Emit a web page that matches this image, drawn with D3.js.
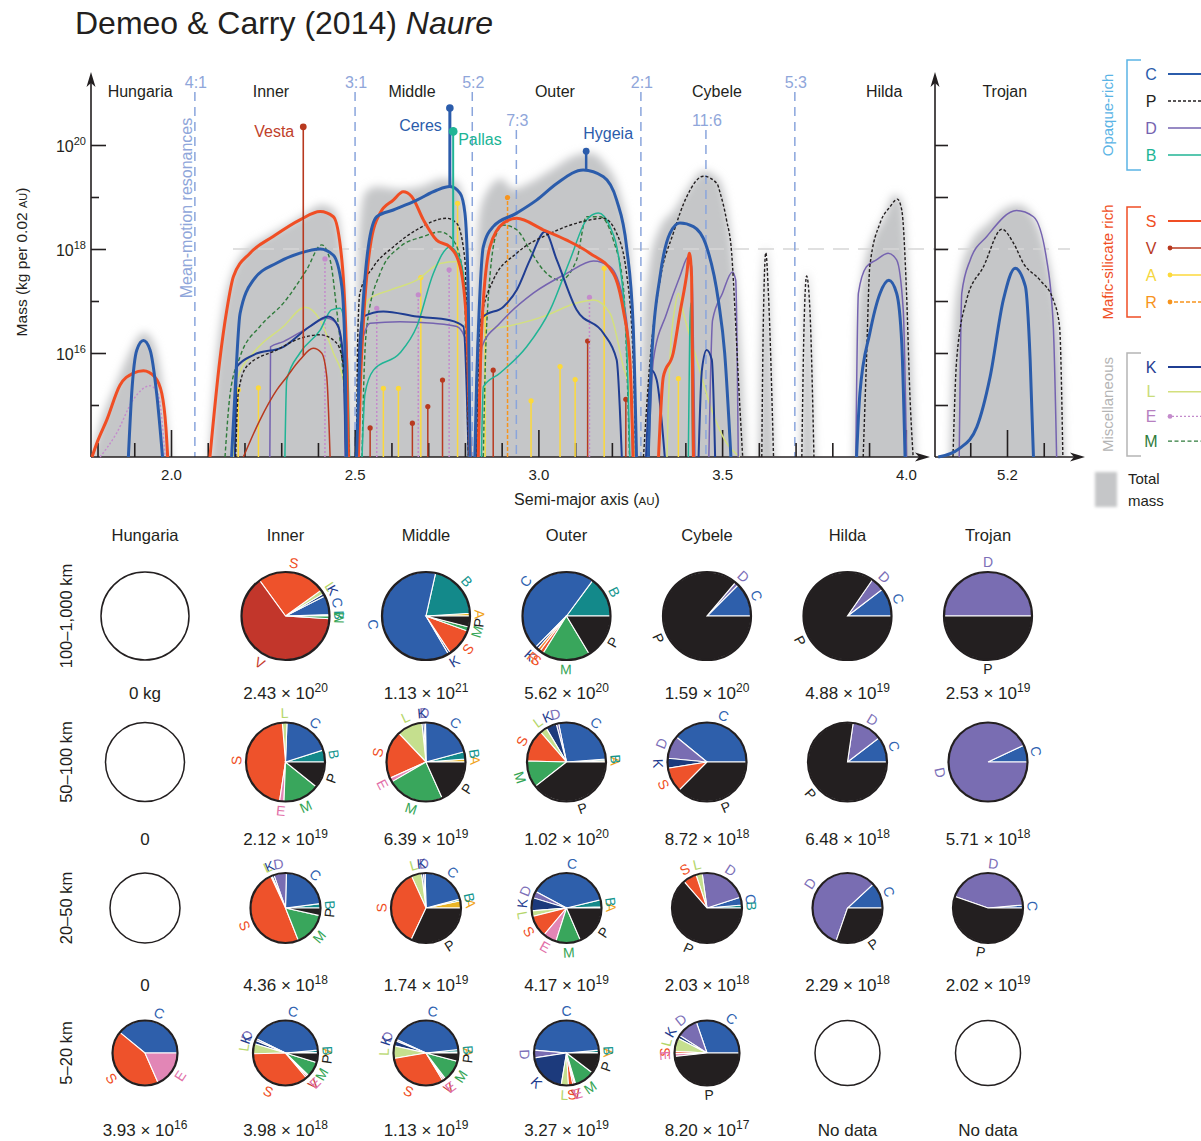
<!DOCTYPE html>
<html>
<head>
<meta charset="utf-8">
<script src="https://cdnjs.cloudflare.com/ajax/libs/d3/7.8.5/d3.min.js"></script>
<style>
  body { margin: 0; background: #fff; }
  svg { font-family: "Liberation Sans", Arial, sans-serif; }
</style>
</head>
<body>
<svg id="chart" width="1201" height="1141"></svg>
<script>
// curves: [semi-major axis (AU), log10 mass (kg per 0.02 AU)]
var hungariaTotal = [[1.783,14],[1.81,14.7],[1.85,15.4],[1.88,15.9],[1.91,16.3],[1.925,16.4],[1.945,16.3],[1.965,15.9],[1.98,15.2],[1.99,14.5],[1.998,14]];
var hungariaS = [[1.785,14],[1.80,14.3],[1.825,14.71],[1.861,15.38],[1.897,15.61],[1.925,15.66],[1.956,15.54],[1.975,15.22],[1.986,14.58],[1.991,14]];
var hungariaC = [[1.884,14],[1.893,15.22],[1.907,16.06],[1.925,16.24],[1.943,16.06],[1.961,15.22],[1.977,14]];
var hungariaE = [[1.807,14],[1.852,14.46],[1.897,15.1],[1.943,15.37],[1.965,15.2],[1.984,14]];

var innerTotal = [[2.105,14],[2.12,15.6],[2.14,16.8],[2.165,17.5],[2.2,17.95],[2.25,18.2],[2.3,18.4],[2.36,18.65],[2.41,18.85],[2.445,18.75],[2.465,18.1],[2.48,16.5],[2.49,14]];
var innerS = [[2.106,14],[2.133,15.87],[2.152,16.83],[2.17,17.47],[2.215,17.92],[2.278,18.24],[2.351,18.56],[2.406,18.72],[2.442,18.62],[2.465,17.79],[2.478,15.87],[2.483,14]];
var innerC = [[2.165,14],[2.174,15.22],[2.188,16.76],[2.224,17.4],[2.288,17.73],[2.351,17.92],[2.406,18.0],[2.442,17.88],[2.465,17.28],[2.474,15.87],[2.478,14]];
var innerM = [[2.147,14],[2.161,15.22],[2.188,15.93],[2.242,16.51],[2.306,16.96],[2.369,17.6],[2.41,18.08],[2.433,17.79],[2.451,16.83],[2.469,15.54],[2.483,14]];
var innerL = [[2.17,14],[2.179,15.48],[2.224,16.0],[2.306,16.51],[2.365,16.88],[2.406,16.63],[2.442,16.0],[2.469,15.48],[2.478,14]];
var innerK = [[2.174,14],[2.18,15.74],[2.224,15.96],[2.306,16.12],[2.378,16.51],[2.428,16.7],[2.455,16.51],[2.469,15.87],[2.476,14]];
var innerP = [[2.176,14],[2.183,15.22],[2.206,15.74],[2.288,16.06],[2.351,16.28],[2.406,16.35],[2.451,16.19],[2.474,15.54],[2.485,14]];
var innerD = [[2.269,14],[2.271,16.12],[2.306,16.22],[2.369,16.47],[2.424,16.67],[2.451,16.57],[2.469,15.87],[2.474,14]];
var innerB = [[2.31,14],[2.315,15.48],[2.351,16.0],[2.406,16.44],[2.437,16.83],[2.46,16.86],[2.474,16.51],[2.483,15.22],[2.486,14]];
var innerV = [[2.197,14],[2.242,14.71],[2.288,15.29],[2.315,15.54],[2.351,15.87],[2.387,16.09],[2.41,16.0],[2.424,15.54],[2.433,14]];

var middleTotal = [[2.502,14],[2.507,17],[2.515,18.6],[2.53,19.1],[2.56,19.2],[2.62,19.15],[2.68,19.2],[2.74,19.35],[2.775,19.3],[2.795,19.0],[2.808,17.8],[2.816,14]];
var middleC = [[2.505,14],[2.512,15.5],[2.519,16.51],[2.537,18.04],[2.56,18.62],[2.605,18.75],[2.669,18.94],[2.723,19.13],[2.759,19.2],[2.787,19.07],[2.8,18.69],[2.809,17.15],[2.814,14]];
var middleS = [[2.51,14],[2.516,15.5],[2.523,16.51],[2.542,18.04],[2.569,18.69],[2.605,18.94],[2.632,19.1],[2.655,19.01],[2.687,18.56],[2.723,18.17],[2.759,18.04],[2.787,17.66],[2.805,16.51],[2.814,14]];
var middleP = [[2.505,14],[2.508,16.2],[2.514,17.15],[2.551,17.66],[2.605,18.04],[2.669,18.37],[2.75,18.59],[2.778,18.49],[2.8,17.79],[2.81,14]];
var middleM = [[2.52,14],[2.525,15.5],[2.533,16.51],[2.569,17.53],[2.623,18.04],[2.687,18.24],[2.732,18.33],[2.768,18.17],[2.796,17.47],[2.809,14]];
var middleL = [[2.51,14],[2.52,16.3],[2.537,17.02],[2.596,17.21],[2.669,17.4],[2.732,17.72],[2.778,17.76],[2.8,17.15],[2.812,14]];
var middleK = [[2.507,14],[2.513,16.2],[2.523,16.7],[2.578,16.8],[2.669,16.7],[2.759,16.63],[2.796,16.51],[2.81,14]];
var middleD = [[2.51,14],[2.515,16.0],[2.53,16.45],[2.542,16.57],[2.623,16.6],[2.714,16.57],[2.778,16.51],[2.805,16.19],[2.812,14]];
var middleB = [[2.52,14],[2.528,15.22],[2.551,15.67],[2.623,16.0],[2.669,16.51],[2.714,17.53],[2.759,18.04],[2.787,17.79],[2.805,16.83],[2.812,14]];

var outerTotal = [[2.823,14],[2.829,17],[2.838,18.6],[2.86,19.1],[2.9,19.35],[2.93,19.15],[2.97,19.25],[3.03,19.5],[3.1,19.8],[3.14,19.85],[3.18,19.65],[3.22,19.1],[3.245,18.2],[3.26,16.5],[3.27,14]];
var outerC = [[2.827,14],[2.832,15.5],[2.837,16.51],[2.85,18.04],[2.877,18.43],[2.941,18.69],[2.995,18.94],[3.05,19.26],[3.122,19.52],[3.177,19.39],[3.213,18.94],[3.24,18.04],[3.258,16.51],[3.267,14]];
var outerS = [[2.836,14],[2.846,16.51],[2.868,18.04],[2.905,18.5],[2.941,18.59],[3.013,18.37],[3.077,18.17],[3.14,17.92],[3.204,17.53],[3.231,16.83],[3.249,15.87],[3.258,14]];
var outerP = [[2.832,14],[2.841,16.51],[2.877,17.4],[2.941,17.92],[3.032,18.3],[3.122,18.53],[3.177,18.59],[3.213,18.3],[3.24,17.53],[3.258,15.87],[3.265,14]];
var outerM = [[2.85,14],[2.859,16.51],[2.886,18.3],[2.905,18.46],[2.941,18.37],[2.977,17.98],[3.013,17.6],[3.059,17.4],[3.104,17.79],[3.131,18.62],[3.168,18.62],[3.204,18.17],[3.231,17.28],[3.248,14]];
var outerK = [[2.83,14],[2.837,16.51],[2.85,16.7],[2.905,16.89],[2.941,17.21],[2.977,17.79],[3.018,18.33],[3.05,17.79],[3.104,16.83],[3.177,16.38],[3.213,15.87],[3.227,14]];
var outerD = [[2.838,14],[2.846,16.12],[2.895,16.57],[2.986,17.15],[3.077,17.53],[3.15,17.77],[3.195,17.66],[3.231,17.02],[3.249,15.87],[3.256,14]];
var outerB = [[2.845,14],[2.85,15.35],[2.895,15.61],[2.968,16.12],[3.032,16.83],[3.086,17.79],[3.131,18.56],[3.163,18.69],[3.195,18.43],[3.222,17.66],[3.24,16.19],[3.249,14]];
var outerL = [[2.852,14],[2.859,16.44],[2.913,16.51],[3.013,16.7],[3.104,16.96],[3.15,17.02],[3.195,16.76],[3.231,15.74],[3.249,15.22],[3.262,14]];

var cybeleTotal = [[3.276,14],[3.285,16.5],[3.3,17.6],[3.33,18.4],[3.37,18.75],[3.41,19.2],[3.45,19.5],[3.49,19.35],[3.515,18.7],[3.535,17.5],[3.55,16.2],[3.565,14]];
var cybeleTotal2 = [[3.6,14],[3.608,16.8],[3.619,18.05],[3.63,16.8],[3.642,14]];
var cybeleTotal3 = [[3.714,14],[3.722,16.6],[3.73,17.55],[3.74,16.8],[3.752,14]];
var cybeleP = [[3.286,14],[3.304,15.87],[3.331,17.4],[3.367,18.3],[3.404,19.01],[3.449,19.4],[3.486,19.26],[3.495,19.07],[3.512,18.56],[3.526,17.92],[3.535,16.83],[3.544,15.54],[3.556,14]];
var cybeleP2 = [[3.608,14],[3.612,16.51],[3.619,17.93],[3.626,17.15],[3.64,14]];
var cybeleP3 = [[3.717,14],[3.723,16.51],[3.73,17.48],[3.739,16.83],[3.75,14]];
var cybeleC = [[3.299,14],[3.308,15.87],[3.331,17.47],[3.358,18.3],[3.385,18.5],[3.422,18.43],[3.455,18.1],[3.49,17.0],[3.507,16.0],[3.524,14]];
var cybeleS = [[3.327,14],[3.34,15.54],[3.367,16.0],[3.385,16.76],[3.404,17.53],[3.411,17.92],[3.417,17.47],[3.422,14]];
var cybeleD = [[3.3,14],[3.313,15.87],[3.349,16.76],[3.385,17.47],[3.408,17.85],[3.417,17.66],[3.426,14]];
var cybeleD2 = [[3.464,14],[3.474,16.63],[3.501,17.15],[3.528,17.56],[3.537,17.4],[3.544,14]];
var cybeleK = [[3.293,14],[3.308,15.67],[3.322,15.48],[3.344,14]];
var cybeleK2 = [[3.436,14],[3.445,15.67],[3.458,16.06],[3.472,15.87],[3.481,14]];
var cybeleL = [[3.35,14],[3.358,15.87],[3.372,16.89],[3.381,17.15],[3.395,16.76],[3.431,15.87],[3.472,14.9],[3.512,14.27],[3.548,14]];
var cybeleB = [[3.408,14],[3.412,16.5],[3.415,16.96],[3.418,15.0],[3.42,14]];

var hildaTotal = [[3.86,14],[3.868,16.6],[3.885,17.6],[3.91,18.2],[3.94,18.6],[3.97,19.05],[3.99,18.9],[4.004,17.6],[4.014,16.2],[4.026,14]];
var hildaP = [[3.884,14],[3.893,15.87],[3.902,17.66],[3.93,18.5],[3.957,18.81],[3.977,18.96],[3.989,18.75],[4.002,17.15],[4.011,15.22],[4.02,14]];
var hildaD = [[3.864,14],[3.871,17.15],[3.893,17.66],[3.92,17.79],[3.952,17.92],[3.975,17.79],[3.993,16.83],[4.002,14]];
var hildaC = [[3.866,14],[3.875,15.22],[3.902,16.38],[3.93,17.15],[3.954,17.4],[3.975,17.15],[3.989,16.19],[3.998,14]];

var trojanTotal = [[5.045,14],[5.055,16.5],[5.075,17.6],[5.1,18.1],[5.15,18.5],[5.2,18.8],[5.23,18.85],[5.27,18.65],[5.3,18.1],[5.325,17.3],[5.345,16.2],[5.356,14]];
var trojanD = [[5.07,14],[5.077,17.15],[5.1,17.79],[5.145,18.24],[5.226,18.74],[5.272,18.62],[5.308,17.79],[5.326,16.51],[5.335,14]];
var trojanP = [[5.053,14],[5.063,15.87],[5.09,17.02],[5.136,17.66],[5.186,18.38],[5.218,18.11],[5.245,17.72],[5.29,17.4],[5.326,17.02],[5.343,16.51],[5.352,14]];
var trojanC = [[5.013,14],[5.072,14.17],[5.118,14.58],[5.154,15.54],[5.19,17.02],[5.222,17.63],[5.25,17.28],[5.263,15.87],[5.272,14]];

// single objects drawn as stems [a, log10 mass]
var vStems = [[2.542,14.56],[2.657,14.65],[2.699,14.97],[2.739,15.48],[2.877,15.67],[3.134,16.23],[3.238,15.11]];
var aStems = [[2.183,15.29],[2.238,15.33],[2.578,15.32],[2.619,15.32],[2.68,17.45],[2.78,18.88],[2.855,16.73],[2.98,15.08],[3.059,15.74],[3.1,15.49],[3.179,17.63],[3.381,15.51]];
var eStems = [[2.419,17.81],[2.56,16.86],[2.673,17.12],[2.757,17.6],[3.139,17.07]];
var rStems = [[2.916,18.99]];
var bodies = [
  {name: 'Vesta', cls: 'V', a: 2.36, from: 15.95, to: 20.35},
  {name: 'Ceres', cls: 'C', a: 2.759, from: 19.2, to: 20.71},
  {name: 'Pallas', cls: 'B', a: 2.768, from: 18.04, to: 20.26},
  {name: 'Hygeia', cls: 'C', a: 3.13, from: 19.5, to: 19.88}
];

var resonances = [['4:1', 2.065], ['3:1', 2.501], ['5:2', 2.82], ['2:1', 3.279], ['5:3', 3.698]];
var resonancesLow = [['7:3', 2.94], ['11:6', 3.456]];
var regionNames = ['Hungaria', 'Inner', 'Middle', 'Outer', 'Cybele', 'Hilda', 'Trojan'];
var regionLabelAU = [1.916, 2.272, 2.656, 3.045, 3.486, 3.941, 5.194];

// pies: share (%) of each class, per size range and region
var pieOrder = ['A','B','C','D','K','L','R','S','V','E','M','P'];
var sizeRanges = ['100\u20131,000 km', '50\u2013100 km', '20\u201350 km', '5\u201320 km'];
var pies100 = [
  null,
  {B:0.5, C:7, K:1, L:1.5, S:25, V:64, M:1},
  {A:1, B:20.5, C:62, K:0.8, S:10.2, M:1.5, P:4},
  {B:14.9, C:47.7, K:1, R:1.1, S:1.4, M:17.5, P:16.4},
  {C:12.5, D:1.3, P:86.2},
  {C:10.4, D:5, P:84.6},
  {D:50, P:50}
];
var pies50 = [
  null,
  {B:4.9, C:19.5, L:1.9, S:46.3, E:1.8, M:14.8, P:10.8},
  {A:1.2, B:3, C:21, D:0.7, K:0.8, L:10.4, S:19.6, E:1.7, M:23.3, P:18.3},
  {A:0.6, B:0.6, C:27, D:1, K:4.4, L:2.8, S:13.2, M:11, P:39.4},
  {C:39.1, D:9.4, K:4, S:10.1, P:37.4},
  {C:10.4, D:12.3, P:77.3},
  {C:7, D:93}
];
var pies20 = [
  null,
  {B:2, C:22.6, D:5.8, K:0.9, L:0.6, S:49.1, M:15.5, P:3.5},
  {A:3.3, B:0.8, C:21.3, D:0.8, K:0.9, L:4.7, S:36.2, P:32},
  {A:0.5, B:3.3, C:38.4, D:3.1, K:6, L:2.6, S:10, E:6.2, M:11.4, P:18.5},
  {B:1.4, C:3.6, D:22.2, L:2.9, S:6.3, P:63.6},
  {C:11.9, D:57.8, P:30.3},
  {C:1.4, D:43.3, P:55.3}
];
var pies5 = [
  {C:39.1, S:42.5, E:18.4},
  {A:0.3, B:1.1, C:41.4, D:0.9, K:1.7, L:5, S:35.8, V:0.8, E:0.8, M:7.5, P:4.7},
  {A:0.6, B:1.1, C:41.5, D:0.8, K:2.5, L:6.2, S:31, V:0.8, E:0.8, M:10.6, P:4.1},
  {A:0.3, B:1.1, C:47.2, D:3.8, K:20, L:3.6, S:2.2, V:0.8, E:0.6, M:10, P:10.4},
  {C:30.3, D:10.7, K:1.5, L:6.7, S:1.1, E:1.4, P:48.3},
  null,
  null
];
var mass100 = ['0 kg', '2.43e20', '1.13e21', '5.62e20', '1.59e20', '4.88e19', '2.53e19'];
var mass50 = ['0', '2.12e19', '6.39e19', '1.02e20', '8.72e18', '6.48e18', '5.71e18'];
var mass20 = ['0', '4.36e18', '1.74e19', '4.17e19', '2.03e18', '2.29e18', '2.02e19'];
var mass5 = ['3.93e16', '3.98e18', '1.13e19', '3.27e19', '8.20e17', 'No data', 'No data'];

// ---- styles
var ink = '#231f20';
var lineColor = {C:'#2b5cab', P:ink, D:'#7563b0', B:'#20b495', S:'#f04e24', V:'#b8391f', A:'#fcd93b', R:'#f7941d', K:'#1f3d92', L:'#d3e07d', E:'#c48bcc', M:'#2f7b3b'};
var letterColor = {C:'#2b5cab', P:ink, D:'#7563b0', B:'#20b495', S:'#f04e24', V:'#b8391f', A:'#f5d63d', R:'#f7941d', K:'#1f3d92', L:'#c9dc7a', E:'#b67fc0', M:'#2f7b3b'};
var lineWidth = {C:3, P:1.4, D:1.5, B:1.5, S:3, K:2, L:1.5, M:1.4, E:1.4, V:1.5, A:1.5, R:1.5};
var lineDash = {P:'3,2', M:'4,2.5', E:'2,2', R:'4,2'};
var zOrder = {L:0, E:1, M:2, D:3, B:4, K:5, P:6, V:7, S:8, C:9};
var pieFill = {A:'#e9b527', B:'#13898a', C:'#2e5fab', D:'#796db2', K:'#1c3a7c', L:'#c5df8e', R:'#f4812d', S:'#ee522b', V:'#c2362b', E:'#e286b6', M:'#39a65c', P:ink};
var pieText = {A:'#f0a31b', B:'#15968f', C:'#2e62b0', D:'#7c6fb8', K:'#1f3d8f', L:'#b5d66a', R:'#f26b3a', S:'#f04e24', V:'#c53a2c', E:'#e26fa8', M:'#35a555', P:ink};

var svg = d3.select('#chart');

var x = d3.scaleLinear().domain([2, 4]).range([171, 905.8]);
var xT = d3.scaleLinear().domain([5.2, 5.4]).range([1007, 1080.5]);
var y = d3.scaleLog().domain([1e14, 1e20]).range([457, 145]);
var base = y(1e14);
function ym(L) { return y(Math.pow(10, L)); }

var defs = svg.append('defs');
defs.append('filter').attr('id', 'soft')
  .attr('x', '-30%').attr('y', '-30%').attr('width', '160%').attr('height', '160%')
  .append('feGaussianBlur').attr('stdDeviation', 4);
defs.append('filter').attr('id', 'softer')
  .attr('x', '-30%').attr('y', '-30%').attr('width', '160%').attr('height', '160%')
  .append('feGaussianBlur').attr('stdDeviation', 1.5);
defs.append('clipPath').attr('id', 'plotClip')
  .append('rect').attr('x', 92).attr('y', 40).attr('width', 1000).attr('height', base - 40);

function areaFor(sx) {
  return d3.area().x(function(d) { return sx(d[0]); })
    .y0(base + 20).y1(function(d) { return ym(d[1]); })
    .curve(d3.curveMonotoneX);
}
function lineFor(sx) {
  return d3.line().x(function(d) { return sx(d[0]); })
    .y(function(d) { return ym(d[1]); })
    .curve(d3.curveMonotoneX);
}

// ---- title
svg.append('text').attr('x', 75).attr('y', 34).attr('font-size', 32).attr('fill', ink)
  .text('Demeo & Carry (2014) ')
  .append('tspan').attr('font-style', 'italic').text('Naure');

// ---- total mass shading
var shade = svg.append('g').attr('clip-path', 'url(#plotClip)')
  .append('g').attr('filter', 'url(#soft)');
shade.selectAll('path.tot')
  .data([hungariaTotal, innerTotal, middleTotal, outerTotal, cybeleTotal, cybeleTotal2, cybeleTotal3, hildaTotal])
  .enter().append('path').attr('class', 'tot')
  .attr('d', areaFor(x)).attr('fill', '#c5c6c8');
shade.append('path').datum(trojanTotal).attr('d', areaFor(xT)).attr('fill', '#c5c6c8');

// 10^18 reference line
svg.append('line')
  .attr('x1', 233).attr('x2', 1070).attr('y1', y(1e18)).attr('y2', y(1e18))
  .attr('stroke', '#d6d6d6').attr('stroke-width', 1.6).attr('stroke-dasharray', '16,9');

// ---- resonances
var resG = svg.append('g').attr('fill', '#8fa6da').attr('font-size', 16);
function drawRes(list, labelY) {
  list.forEach(function(r) {
    resG.append('line')
      .attr('x1', x(r[1])).attr('x2', x(r[1])).attr('y1', labelY + 4).attr('y2', base)
      .attr('stroke', '#8aa5dc').attr('stroke-width', 1.5).attr('stroke-dasharray', '9,6');
    resG.append('text').attr('x', x(r[1]) + 1).attr('y', labelY).attr('text-anchor', 'middle').text(r[0]);
  });
}
drawRes(resonances, 88);
drawRes(resonancesLow, 126);
resG.append('text')
  .attr('transform', 'translate(186,208) rotate(-90)')
  .attr('text-anchor', 'middle').attr('dy', '0.35em').attr('font-size', 16)
  .text('Mean-motion resonances');

// ---- axes
function styleAxis(g) {
  g.select('.domain').remove();
  g.attr('font-size', 15).attr('font-family', null);
  g.selectAll('line').attr('stroke', ink).attr('stroke-width', 1.6);
  g.selectAll('text').attr('fill', ink);
}
var minorTicks = d3.range(18, 41).filter(function(v) { return v % 5 !== 0; }).map(function(v) { return v / 10; });
var majorTicks = [2, 2.5, 3, 3.5, 4];

svg.append('g').attr('transform', 'translate(0,' + base + ')')
  .call(d3.axisBottom(x).tickValues(minorTicks).tickSize(-14).tickFormat(''))
  .call(styleAxis);
svg.append('g').attr('transform', 'translate(0,' + base + ')')
  .call(d3.axisBottom(x).tickValues(majorTicks).tickSize(-27).tickPadding(12).tickFormat(d3.format('.1f')))
  .call(styleAxis);
svg.append('g').attr('transform', 'translate(0,' + base + ')')
  .call(d3.axisBottom(xT).tickValues([5.1, 5.3]).tickSize(-14).tickFormat(''))
  .call(styleAxis);
svg.append('g').attr('transform', 'translate(0,' + base + ')')
  .call(d3.axisBottom(xT).tickValues([5.2]).tickSize(-27).tickPadding(12).tickFormat(d3.format('.1f')))
  .call(styleAxis);

var yTicks = [1e15, 1e16, 1e17, 1e18, 1e19, 1e20];
svg.append('g').attr('transform', 'translate(91,0)')
  .call(d3.axisLeft(y).tickValues(yTicks).tickSize(-15).tickFormat(''))
  .call(styleAxis)
  .selectAll('.tick line')
  .attr('x2', function(d) { return Math.round(Math.log10(d)) % 2 === 0 ? 15 : 8; });
svg.append('g').attr('transform', 'translate(935,0)')
  .call(d3.axisLeft(y).tickValues(yTicks).tickSize(-13).tickFormat(''))
  .call(styleAxis);

[16, 18, 20].forEach(function(e) {
  var t = svg.append('text').attr('x', 86).attr('y', ym(e) + 7)
    .attr('text-anchor', 'end').attr('font-size', 16).attr('fill', ink);
  t.append('tspan').text('10');
  t.append('tspan').attr('dy', -7).attr('font-size', 11).text(e);
});

// axis lines with arrows
var axisG = svg.append('g').attr('stroke', ink).attr('stroke-width', 1.6);
axisG.append('line').attr('x1', 91).attr('x2', 91).attr('y1', 80).attr('y2', base);
axisG.append('line').attr('x1', 91).attr('x2', 922).attr('y1', base).attr('y2', base);
axisG.append('line').attr('x1', 935).attr('x2', 935).attr('y1', 80).attr('y2', base);
axisG.append('line').attr('x1', 935).attr('x2', 1077).attr('y1', base).attr('y2', base);
function upArrow(cx, tip) {
  return 'M' + cx + ',' + tip + 'L' + (cx - 4.5) + ',' + (tip + 15) + 'L' + cx + ',' + (tip + 11) + 'L' + (cx + 4.5) + ',' + (tip + 15) + 'Z';
}
function rightArrow(tip, cy) {
  return 'M' + tip + ',' + cy + 'L' + (tip - 15) + ',' + (cy - 4.5) + 'L' + (tip - 11) + ',' + cy + 'L' + (tip - 15) + ',' + (cy + 4.5) + 'Z';
}
svg.append('path').attr('d', upArrow(91, 72)).attr('fill', ink);
svg.append('path').attr('d', upArrow(935, 72)).attr('fill', ink);
svg.append('path').attr('d', rightArrow(930, base)).attr('fill', ink);
svg.append('path').attr('d', rightArrow(1085, base)).attr('fill', ink);

// axis titles
var yTitle = svg.append('text').attr('transform', 'translate(22,262) rotate(-90)')
  .attr('text-anchor', 'middle').attr('dy', '0.35em').attr('font-size', 15.5).attr('fill', ink);
yTitle.append('tspan').text('Mass (kg per 0.02 ');
yTitle.append('tspan').attr('font-size', 11).text('AU');
yTitle.append('tspan').text(')');
var xTitle = svg.append('text').attr('x', 587).attr('y', 505)
  .attr('text-anchor', 'middle').attr('font-size', 16).attr('fill', ink);
xTitle.append('tspan').text('Semi-major axis (');
xTitle.append('tspan').attr('font-size', 11.5).text('AU');
xTitle.append('tspan').text(')');

// region names
svg.append('g').selectAll('text').data(regionNames).enter().append('text')
  .attr('x', function(d, i) { return i < 6 ? x(regionLabelAU[i]) : xT(regionLabelAU[i]); })
  .attr('y', 97).attr('text-anchor', 'middle').attr('font-size', 16).attr('fill', ink)
  .text(function(d) { return d; });

// ---- stems of single objects
function drawStems(list, cls) {
  var g = svg.append('g');
  list.forEach(function(s) {
    g.append('line').attr('x1', x(s[0])).attr('x2', x(s[0])).attr('y1', base).attr('y2', ym(s[1]))
      .attr('stroke', lineColor[cls]).attr('stroke-width', 1.5)
      .attr('stroke-dasharray', lineDash[cls] || null);
    g.append('circle').attr('cx', x(s[0])).attr('cy', ym(s[1])).attr('r', 2.6).attr('fill', lineColor[cls]);
  });
}
drawStems(aStems, 'A');
drawStems(vStems, 'V');
drawStems(eStems, 'E');
drawStems(rStems, 'R');

// ---- class curves
var curves = [
  {cls:'E', pts:hungariaE}, {cls:'S', pts:hungariaS}, {cls:'C', pts:hungariaC},
  {cls:'S', pts:innerS}, {cls:'C', pts:innerC}, {cls:'M', pts:innerM}, {cls:'L', pts:innerL}, {cls:'K', pts:innerK},
  {cls:'P', pts:innerP}, {cls:'D', pts:innerD}, {cls:'B', pts:innerB}, {cls:'V', pts:innerV},
  {cls:'C', pts:middleC}, {cls:'S', pts:middleS}, {cls:'P', pts:middleP}, {cls:'M', pts:middleM}, {cls:'L', pts:middleL},
  {cls:'K', pts:middleK}, {cls:'D', pts:middleD}, {cls:'B', pts:middleB},
  {cls:'C', pts:outerC}, {cls:'S', pts:outerS}, {cls:'P', pts:outerP}, {cls:'M', pts:outerM}, {cls:'K', pts:outerK},
  {cls:'D', pts:outerD}, {cls:'B', pts:outerB}, {cls:'L', pts:outerL},
  {cls:'P', pts:cybeleP}, {cls:'P', pts:cybeleP2}, {cls:'P', pts:cybeleP3}, {cls:'C', pts:cybeleC}, {cls:'S', pts:cybeleS},
  {cls:'D', pts:cybeleD}, {cls:'D', pts:cybeleD2}, {cls:'K', pts:cybeleK}, {cls:'K', pts:cybeleK2}, {cls:'L', pts:cybeleL}, {cls:'B', pts:cybeleB},
  {cls:'P', pts:hildaP}, {cls:'D', pts:hildaD}, {cls:'C', pts:hildaC}
];
var trojanCurves = [{cls:'P', pts:trojanP}, {cls:'D', pts:trojanD}, {cls:'C', pts:trojanC}];
function byZ(a, b) { return zOrder[a.cls] - zOrder[b.cls]; }

function drawCurves(list, sx) {
  svg.append('g').selectAll('path').data(list.slice().sort(byZ)).enter().append('path')
    .attr('d', function(d) { return lineFor(sx)(d.pts); })
    .attr('fill', 'none')
    .attr('stroke', function(d) { return lineColor[d.cls]; })
    .attr('stroke-width', function(d) { return lineWidth[d.cls]; })
    .attr('stroke-dasharray', function(d) { return lineDash[d.cls] || null; });
}
drawCurves(curves, x);
drawCurves(trojanCurves, xT);

// ---- named bodies
var bodyLabel = {
  Vesta: {dx: -9, dy: 10, anchor: 'end', w: 1.6, r: 3.4},
  Ceres: {dx: -8, dy: 23, anchor: 'end', w: 3, r: 3.8},
  Pallas: {dx: 5, dy: 14, anchor: 'start', w: 2, r: 4.4},
  Hygeia: {dx: 22, dy: -12, anchor: 'middle', w: 2.5, r: 3.4}
};
bodies.forEach(function(b) {
  var lay = bodyLabel[b.name];
  var bx = x(b.a);
  svg.append('line').attr('x1', bx).attr('x2', bx).attr('y1', ym(b.from)).attr('y2', ym(b.to))
    .attr('stroke', lineColor[b.cls]).attr('stroke-width', lay.w);
  svg.append('circle').attr('cx', bx).attr('cy', ym(b.to)).attr('r', lay.r).attr('fill', lineColor[b.cls]);
  svg.append('text').attr('x', bx + lay.dx).attr('y', ym(b.to) + lay.dy)
    .attr('text-anchor', lay.anchor).attr('font-size', 16)
    .attr('fill', b.cls === 'V' ? '#c0412a' : lineColor[b.cls])
    .text(b.name);
});

// ---- legend
var legendGroups = [
  {title: 'Opaque-rich', color: '#5bb4e5', classes: ['C', 'P', 'D', 'B']},
  {title: 'Mafic-silicate rich', color: '#f04e24', classes: ['S', 'V', 'A', 'R']},
  {title: 'Miscellaneous', color: '#b5b5b5', classes: ['K', 'L', 'E', 'M']}
];
var legendTop = [74, 221, 367];
var legendStep = [27, 27, 24.7];
var stemClasses = {V: 1, A: 1, R: 1, E: 1};
var leg = svg.append('g');
legendGroups.forEach(function(grp, gi) {
  var top = legendTop[gi] - 14;
  var bottom = legendTop[gi] + legendStep[gi] * 3 + 15;
  leg.append('path')
    .attr('d', 'M1141,' + top + 'H1127V' + bottom + 'H1141')
    .attr('fill', 'none').attr('stroke', grp.color).attr('stroke-width', 1.5);
  leg.append('text')
    .attr('transform', 'translate(1108,' + ((top + bottom) / 2) + ') rotate(-90)')
    .attr('text-anchor', 'middle').attr('dy', '0.35em').attr('font-size', 15).attr('fill', grp.color)
    .text(grp.title);
  grp.classes.forEach(function(c, i) {
    var iy = legendTop[gi] + legendStep[gi] * i;
    leg.append('text').attr('x', 1151).attr('y', iy).attr('dy', '0.36em')
      .attr('text-anchor', 'middle').attr('font-size', 16).attr('fill', letterColor[c]).text(c);
    leg.append('line').attr('x1', 1168).attr('x2', 1205).attr('y1', iy).attr('y2', iy)
      .attr('stroke', lineColor[c]).attr('stroke-width', Math.min(lineWidth[c], 2.2))
      .attr('stroke-dasharray', lineDash[c] || null);
    if (stemClasses[c]) {
      leg.append('circle').attr('cx', 1170).attr('cy', iy).attr('r', 2.4).attr('fill', lineColor[c]);
    }
  });
});
leg.append('rect').attr('x', 1095).attr('y', 472).attr('width', 22).attr('height', 35)
  .attr('fill', '#c5c6c8').attr('filter', 'url(#softer)');
leg.append('text').attr('x', 1128).attr('y', 484).attr('font-size', 15).attr('fill', ink).text('Total');
leg.append('text').attr('x', 1128).attr('y', 506).attr('font-size', 15).attr('fill', ink).text('mass');

// ---- pie grid
var pieRows = [pies100, pies50, pies20, pies5];
var massRows = [mass100, mass50, mass20, mass5];
var rowCy = [616, 762, 908, 1053];
var rowR = [44, 39.5, 35, 32.5];
var colX = d3.range(7).map(function(i) { return 145 + i * 140.5; });

var pie = d3.pie().sort(null).value(function(d) { return d.v; })
  .startAngle(Math.PI / 2).endAngle(-1.5 * Math.PI);

svg.append('g').selectAll('text').data(regionNames).enter().append('text')
  .attr('x', function(d, i) { return colX[i]; }).attr('y', 541)
  .attr('text-anchor', 'middle').attr('font-size', 16.5).attr('fill', ink)
  .text(function(d) { return d; });

sizeRanges.forEach(function(label, ri) {
  svg.append('text').attr('transform', 'translate(66,' + rowCy[ri] + ') rotate(-90)')
    .attr('text-anchor', 'middle').attr('dy', '0.35em').attr('font-size', 16.5).attr('fill', ink)
    .text(label);
});

function massLabel(sel, s) {
  var m = /^([\d.]+)e(\d+)$/.exec(s);
  if (!m) { sel.text(s); return; }
  sel.append('tspan').text(m[1] + ' \u00d7 10');
  sel.append('tspan').attr('dy', -7).attr('font-size', 12).text(m[2]);
}

pieRows.forEach(function(row, ri) {
  var r = rowR[ri];
  var arc = d3.arc().innerRadius(0).outerRadius(r);
  row.forEach(function(cell, ci) {
    var g = svg.append('g').attr('transform', 'translate(' + colX[ci] + ',' + rowCy[ri] + ')');
    if (!cell) {
      g.append('circle').attr('r', r).attr('fill', '#fff').attr('stroke', ink).attr('stroke-width', 1.5);
    } else {
      var slices = pie(pieOrder.filter(function(c) { return cell[c]; })
        .map(function(c) { return {cls: c, v: cell[c]}; }));
      g.selectAll('path').data(slices).enter().append('path')
        .attr('d', arc)
        .attr('fill', function(d) { return pieFill[d.data.cls]; })
        .attr('stroke', '#fff').attr('stroke-width', 1.1);
      g.append('circle').attr('r', r).attr('fill', 'none').attr('stroke', ink).attr('stroke-width', 2.2);
      g.selectAll('text').data(slices).enter().append('text')
        .attr('transform', function(d) {
          var th = (d.startAngle + d.endAngle) / 2;
          var deg = ((th * 180 / Math.PI) % 360 + 360) % 360;
          var rot = (deg > 90 && deg < 270) ? deg - 180 : deg;
          var lr = r + 9.5;
          return 'translate(' + (Math.sin(th) * lr) + ',' + (-Math.cos(th) * lr) + ') rotate(' + rot + ')';
        })
        .attr('text-anchor', 'middle').attr('dy', '0.35em').attr('font-size', 14)
        .attr('fill', function(d) { return pieText[d.data.cls]; })
        .text(function(d) { return d.data.cls; });
    }
    var t = svg.append('text').attr('x', colX[ci]).attr('y', rowCy[ri] + 83)
      .attr('text-anchor', 'middle').attr('font-size', 17).attr('fill', ink);
    massLabel(t, massRows[ri][ci]);
  });
});
</script>
</body>
</html>
